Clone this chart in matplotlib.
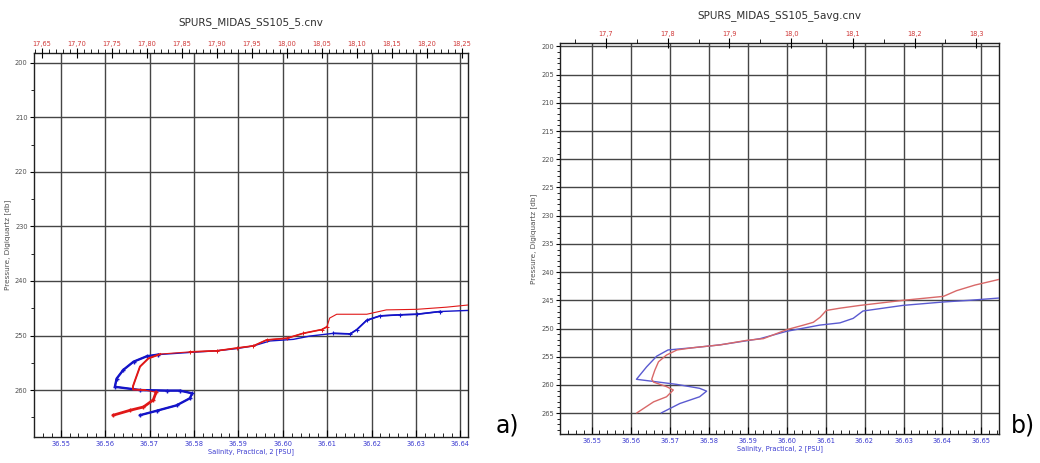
import matplotlib
matplotlib.use("Agg")
import matplotlib.pyplot as plt
from matplotlib.ticker import MultipleLocator, FixedLocator, FuncFormatter

# ---------------- data ----------------
# Panel a: raw profile SPURS_MIDAS_SS105_5.cnv
a_temp = [17.752, 17.776, 17.795, 17.809, 17.813, 17.797, 17.780, 17.780, 17.783,
          17.790, 17.802, 17.819, 17.861, 17.900, 17.928, 17.952, 17.971, 18.000,
          18.023, 18.050, 18.057, 18.061, 18.071, 18.114, 18.142, 18.185, 18.228, 18.259]
a_temp_p = [264.6, 263.7, 263.1, 261.8, 260.4, 260.0, 259.9, 259.3, 258.2,
            255.7, 254.2, 253.4, 253.0, 252.8, 252.3, 251.9, 250.8, 250.5,
            249.6, 248.9, 248.4, 246.8, 246.1, 246.1, 245.3, 245.2, 244.8, 244.4]
a_sal = [36.5679, 36.5716, 36.5761, 36.5791, 36.5796, 36.5769, 36.5739, 36.5679,
         36.5622, 36.5626, 36.5641, 36.5664, 36.5694, 36.5719, 36.5791, 36.5851,
         36.5896, 36.5934, 36.5971, 36.6024, 36.6061, 36.6114, 36.6152, 36.6167,
         36.6189, 36.6219, 36.6264, 36.6302, 36.6354, 36.6417]
a_sal_p = [264.6, 263.8, 262.8, 261.5, 260.6, 260.1, 260.1, 260.0,
           259.4, 257.9, 256.3, 254.8, 253.8, 253.5, 253.1, 252.8,
           252.4, 251.9, 251.0, 250.7, 250.1, 249.6, 249.7, 248.9,
           247.2, 246.4, 246.2, 246.1, 245.6, 245.4]

# Panel b: averaged profile SPURS_MIDAS_SS105_5avg.cnv
b_temp = [17.750, 17.777, 17.798, 17.809, 17.798, 17.777, 17.774, 17.779, 17.785,
          17.798, 17.815, 17.841, 17.885, 17.928, 17.955, 17.993, 18.020, 18.036,
          18.047, 18.057, 18.079, 18.112, 18.182, 18.247, 18.268, 18.298, 18.337]
b_temp_p = [264.95, 263.0, 262.1, 260.9, 260.3, 259.5, 259.0, 257.4, 255.9,
            254.7, 253.8, 253.4, 252.9, 252.1, 251.8, 250.2, 249.4, 248.9,
            248.0, 246.8, 246.4, 245.9, 245.0, 244.3, 243.3, 242.3, 241.3]
b_sal = [36.5679, 36.5726, 36.5777, 36.5795, 36.5777, 36.5718, 36.5615, 36.5641,
         36.5667, 36.5696, 36.5761, 36.5829, 36.5932, 36.6000, 36.6085, 36.6137,
         36.6171, 36.6196, 36.6299, 36.6402, 36.6470, 36.6545]
b_sal_p = [264.95, 263.3, 262.1, 261.1, 260.6, 259.9, 259.0, 256.8,
           254.9, 253.8, 253.4, 252.9, 251.8, 250.5, 249.4, 249.0,
           248.2, 246.9, 245.9, 245.3, 245.0, 244.6]

a_title = "SPURS_MIDAS_SS105_5.cnv"
b_title = "SPURS_MIDAS_SS105_5avg.cnv"
x_label = "Salinity, Practical, 2 [PSU]"
y_label = "Pressure, Digiquartz [db]"
panel_labels = ["a)", "b)"]

# ---------------- style ----------------
RED_T = "#d03a3a"
BLUE_T = "#3a3ad0"
GRID = "#454545"
RED_A = "#e01818"
BLUE_A = "#1414c8"
RED_B = "#d86868"
BLUE_B = "#5a5ad0"

fig = plt.figure(figsize=(10.40, 4.63), dpi=100)


def comma_fmt(dec):
    return FuncFormatter(lambda v, p: f"{v:.{dec}f}".replace(".", ","))


def setup(ax, sal_lim, temp_lim, p_lim, ymaj, ymin, grid_y, sal_ticks,
          temp_major, temp_minor, tdec, title, tpad):
    ax.set_xlim(*sal_lim)
    ax.set_ylim(*p_lim)
    ax.xaxis.set_major_locator(FixedLocator(sal_ticks))
    ax.xaxis.set_minor_locator(MultipleLocator(0.002))
    ax.xaxis.set_major_formatter(FuncFormatter(lambda v, p: f"{v:.2f}"))
    ax.yaxis.set_major_locator(MultipleLocator(ymaj))
    ax.yaxis.set_minor_locator(MultipleLocator(ymin))
    ax.tick_params(axis="x", which="major", direction="in", length=5, width=0.8,
                   labelsize=4.8, labelcolor=BLUE_T, pad=3)
    ax.tick_params(axis="x", which="minor", direction="in", length=3, width=0.6)
    ax.tick_params(axis="y", which="major", direction="out", length=3, width=0.8,
                   labelsize=4.8, labelcolor="#505050", pad=1.5)
    ax.tick_params(axis="y", which="minor", direction="out", length=2, width=0.6)
    for s in ax.spines.values():
        s.set_color("#202020")
        s.set_linewidth(1.0)
    for xv in sal_ticks:
        ax.axvline(xv, color=GRID, lw=1.0, zorder=0)
    for yv in grid_y:
        ax.axhline(yv, color=GRID, lw=1.0, zorder=0)
    ax.set_xlabel(x_label, fontsize=4.8, color=BLUE_T, labelpad=1)
    ax.set_ylabel(y_label, fontsize=5.2, color="#505050", labelpad=3)
    axt = ax.twiny()
    axt.set_xlim(*temp_lim)
    axt.xaxis.set_major_locator(MultipleLocator(temp_major))
    axt.xaxis.set_minor_locator(MultipleLocator(temp_minor))
    axt.xaxis.set_major_formatter(comma_fmt(tdec))
    axt.tick_params(axis="x", which="major", direction="inout", length=7, width=0.8,
                    labelsize=4.8, labelcolor=RED_T, pad=1)
    axt.tick_params(axis="x", which="minor", direction="out", length=3, width=0.6)
    for s in axt.spines.values():
        s.set_visible(False)
    ax.set_title(title, fontsize=7.5, color="#303030", pad=tpad)
    return axt


# ---------------- panel a ----------------
ax_a = fig.add_axes([0.0327, 0.0562, 0.4173, 0.8294])
axt_a = setup(ax_a, (36.5440, 36.6417), (17.6386, 18.2586), (268.6, 198.2),
              10, 5, [200, 210, 220, 230, 240, 250, 260],
              [36.55 + 0.01 * i for i in range(10)], 0.05, 0.01, 2, a_title, 20)
ax_a.plot(a_sal, a_sal_p, color=BLUE_A, lw=1.0, zorder=3)
ax_a.plot(a_sal[:14], a_sal_p[:14], color=BLUE_A, lw=1.7, marker="+", ms=3.5,
          mew=1.0, zorder=3)
ax_a.plot(a_sal[21:29], a_sal_p[21:29], color=BLUE_A, lw=1.2, marker="+", ms=3,
          mew=0.8, zorder=3)
axt_a.plot(a_temp, a_temp_p, color=RED_A, lw=0.8, zorder=4)
axt_a.plot(a_temp[:5], a_temp_p[:5], color=RED_A, lw=2.0, marker="+", ms=3.5,
           mew=1.0, zorder=4)
axt_a.plot(a_temp[5:12], a_temp_p[5:12], color=RED_A, lw=1.4, zorder=4)
axt_a.plot(a_temp[12:21], a_temp_p[12:21], color=RED_A, lw=1.2, marker="+", ms=2.5,
           mew=0.7, zorder=4)

# ---------------- panel b ----------------
ax_b = fig.add_axes([0.5385, 0.0626, 0.4221, 0.8445])
axt_b = setup(ax_b, (36.5419, 36.6545), (17.6254, 18.337), (268.7, 199.4),
              5, 1, [200 + 5 * i for i in range(14)],
              [36.55 + 0.01 * i for i in range(11)], 0.1, 0.05, 1, b_title, 18)
ax_b.plot(b_sal, b_sal_p, color=BLUE_B, lw=1.0, zorder=3)
axt_b.plot(b_temp, b_temp_p, color=RED_B, lw=1.0, zorder=4)

fig.text(0.477, 0.055, panel_labels[0], fontsize=17, color="black",
         ha="left", va="bottom")
fig.text(0.972, 0.055, panel_labels[1], fontsize=17, color="black",
         ha="left", va="bottom")

fig.savefig("out.png", dpi=100)
